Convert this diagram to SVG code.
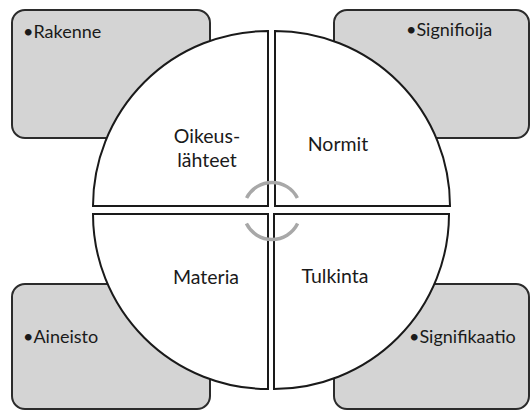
<svg xmlns="http://www.w3.org/2000/svg" width="531" height="411" viewBox="0 0 531 411">
  <style>
    .box { fill: #d4d4d4; stroke: #2b2b2b; stroke-width: 2; }
    .quad { fill: #ffffff; stroke: #1a1a1a; stroke-width: 2; }
    .lbl { font-family: "Lato", "Open Sans", sans-serif; font-size: 18px; fill: #1a1a1a; }
    .main { font-family: "Lato", "Open Sans", sans-serif; font-size: 19.5px; fill: #1a1a1a; text-anchor: middle; }
    .cyc { fill: none; stroke: #a8a8a8; stroke-width: 3.5; }
  </style>
  <rect width="531" height="411" fill="#ffffff"/>

  <g id="box-rakenne">
    <rect class="box" x="12" y="10" width="198" height="128" rx="13"/>
    <text class="lbl" x="23" y="38">•Rakenne</text>
  </g>
  <g id="box-signifioija">
    <rect class="box" x="334" y="10" width="195" height="128" rx="13"/>
    <text class="lbl" x="406" y="36">•Signifioija</text>
  </g>
  <g id="box-aineisto">
    <rect class="box" x="12" y="284" width="198" height="125" rx="13"/>
    <text class="lbl" x="23" y="343">•Aineisto</text>
  </g>
  <g id="box-signifikaatio">
    <rect class="box" x="334" y="284" width="195" height="125" rx="13"/>
    <text class="lbl" x="409" y="343">•Signifikaatio</text>
  </g>

  <g id="quad-oikeuslahteet">
    <path class="quad" d="M268,206 L93,206 A175,175 0 0 1 268,31 Z"/>
    <text class="main" x="207" y="143">Oikeus-</text>
    <text class="main" x="207" y="166.5">lähteet</text>
  </g>
  <g id="quad-normit">
    <path class="quad" d="M275,206 L275,31 A175,175 0 0 1 450,206 Z"/>
    <text class="main" x="338" y="151">Normit</text>
  </g>
  <g id="quad-materia">
    <path class="quad" d="M268,214 L268,389 A175,175 0 0 1 93,214 Z"/>
    <text class="main" x="206" y="284">Materia</text>
  </g>
  <g id="quad-tulkinta">
    <path class="quad" d="M274,214 L449,214 A175,175 0 0 1 274,389 Z"/>
    <text class="main" x="335" y="283">Tulkinta</text>
  </g>

  <g id="connectors">
    <path class="cyc" d="M246.6,198 A28.5,28.5 0 0 1 297.4,198"/>
    <path class="cyc" d="M297.6,223.5 A28.5,28.5 0 0 1 246.4,223.5"/>
  </g>
</svg>
